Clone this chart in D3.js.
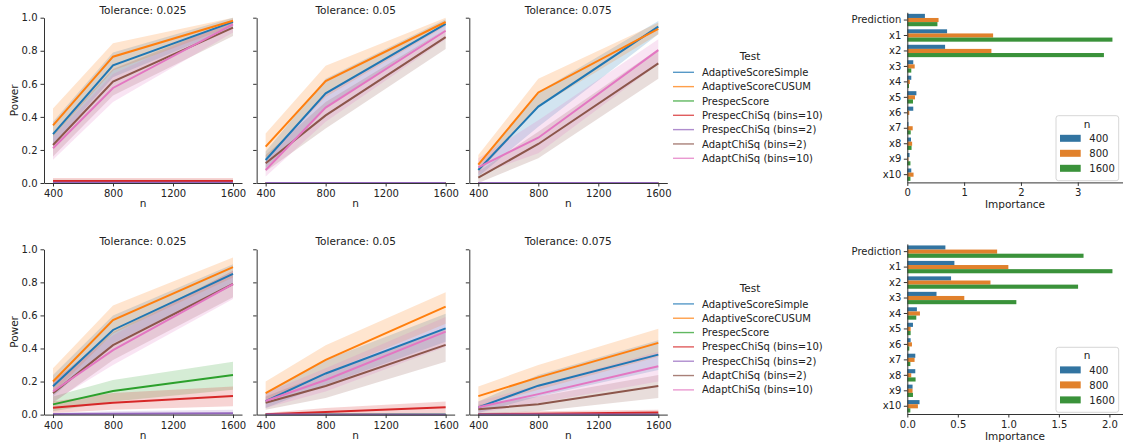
<!DOCTYPE html>
<html>
<head>
<meta charset="utf-8">
<script src="https://cdn.jsdelivr.net/npm/d3@7"></script>
<style>
  body { margin: 0; background: #fff; }
  text { font-family: "DejaVu Sans", sans-serif; fill: #222; }
</style>
</head>
<body>
<svg id="chart" width="1123" height="446"></svg>
<script>
// ---- data ----
const nValues = [400, 800, 1600];
const tolerances = ["0.025", "0.05", "0.075"];
const tests = ["AdaptiveScoreSimple", "AdaptiveScoreCUSUM", "PrespecScore",
  "PrespecChiSq (bins=10)", "PrespecChiSq (bins=2)", "AdaptChiSq (bins=2)", "AdaptChiSq (bins=10)"];
const testColors = ["#1f77b4", "#ff7f0e", "#2ca02c", "#d62728", "#9467bd", "#8c564b", "#e377c2"];
const xTicks = [400, 800, 1200, 1600];
const yTicks = [0, 0.2, 0.4, 0.6, 0.8, 1.0];

// [tolerance][test][n]
const powerTop = [
  [[0.296, 0.712, 0.975], [0.349, 0.764, 0.982], [0.004, 0.004, 0.004], [0.012, 0.012, 0.012], [0.002, 0.002, 0.002], [0.230, 0.613, 0.940], [0.210, 0.575, 0.960]],
  [[0.139, 0.542, 0.962], [0.220, 0.617, 0.974], [0, 0, 0], [0, 0, 0], [0, 0, 0], [0.119, 0.409, 0.883], [0.079, 0.456, 0.921]],
  [[0.079, 0.462, 0.946], [0.111, 0.548, 0.933], [0, 0, 0], [0, 0, 0], [0, 0, 0], [0.032, 0.236, 0.724], [0.095, 0.274, 0.804]]
];
const lowerTop = [
  [[0.23, 0.64, 0.94], [0.28, 0.68, 0.95], [0, 0, 0], [0, 0, 0], [0, 0, 0], [0.16, 0.53, 0.89], [0.14, 0.49, 0.91]],
  [[0.09, 0.46, 0.93], [0.15, 0.52, 0.95], [0, 0, 0], [0, 0, 0], [0, 0, 0], [0.07, 0.33, 0.81], [0.04, 0.37, 0.87]],
  [[0.04, 0.34, 0.90], [0.06, 0.46, 0.90], [0, 0, 0], [0, 0, 0], [0, 0, 0], [0.00, 0.15, 0.63], [0.05, 0.18, 0.72]]
];
const upperTop = [
  [[0.37, 0.79, 1.00], [0.45, 0.845, 1.00], [0.02, 0.02, 0.02], [0.03, 0.03, 0.03], [0.01, 0.01, 0.01], [0.30, 0.69, 0.98], [0.28, 0.66, 0.99]],
  [[0.19, 0.63, 0.99], [0.30, 0.71, 1.00], [0, 0, 0], [0, 0, 0], [0.003, 0.003, 0.003], [0.17, 0.49, 0.93], [0.13, 0.54, 0.96]],
  [[0.12, 0.55, 0.98], [0.17, 0.63, 0.97], [0, 0, 0], [0, 0, 0], [0.003, 0.003, 0.003], [0.07, 0.31, 0.81], [0.15, 0.38, 0.87]]
];

const powerBottom = [
  [[0.171, 0.512, 0.851], [0.200, 0.572, 0.892], [0.062, 0.143, 0.239], [0.042, 0.072, 0.112], [0.003, 0.005, 0.008], [0.130, 0.420, 0.790], [0.140, 0.390, 0.790]],
  [[0.082, 0.249, 0.522], [0.130, 0.331, 0.653], [0, 0, 0], [0.002, 0.016, 0.044], [0, 0, 0], [0.072, 0.173, 0.422], [0.082, 0.209, 0.502]],
  [[0.044, 0.175, 0.363], [0.112, 0.225, 0.434], [0, 0, 0], [0.002, 0.005, 0.012], [0, 0, 0], [0.032, 0.062, 0.173], [0.044, 0.124, 0.293]]
];
const lowerBottom = [
  [[0.11, 0.43, 0.79], [0.13, 0.49, 0.83], [0.02, 0.08, 0.15], [0.01, 0.03, 0.05], [0, 0, 0], [0.07, 0.33, 0.71], [0.08, 0.30, 0.70]],
  [[0.04, 0.18, 0.44], [0.07, 0.25, 0.55], [0, 0, 0], [0, 0, 0.01], [0, 0, 0], [0.03, 0.10, 0.32], [0.04, 0.14, 0.41]],
  [[0.01, 0.11, 0.27], [0.05, 0.15, 0.35], [0, 0, 0], [0, 0, 0], [0, 0, 0], [0.00, 0.02, 0.10], [0.01, 0.07, 0.20]]
];
const upperBottom = [
  [[0.24, 0.60, 0.91], [0.28, 0.66, 0.95], [0.11, 0.21, 0.32], [0.08, 0.13, 0.17], [0.01, 0.02, 0.03], [0.20, 0.50, 0.87], [0.20, 0.48, 0.87]],
  [[0.13, 0.33, 0.61], [0.20, 0.42, 0.74], [0, 0, 0], [0.01, 0.04, 0.08], [0.003, 0.003, 0.003], [0.11, 0.25, 0.52], [0.13, 0.28, 0.59]],
  [[0.08, 0.24, 0.45], [0.17, 0.30, 0.52], [0, 0, 0], [0.01, 0.02, 0.03], [0.003, 0.003, 0.003], [0.06, 0.11, 0.24], [0.08, 0.18, 0.38]]
];

const features = ["Prediction", "x1", "x2", "x3", "x4", "x5", "x6", "x7", "x8", "x9", "x10"];
const barColors = ["#3274a1", "#e1812c", "#3a923a"];
// [n][feature]
const importanceTop = [
  [0.31, 0.70, 0.665, 0.105, 0.07, 0.16, 0.105, 0.02, 0.065, 0.04, 0.07],
  [0.55, 1.51, 1.48, 0.13, 0.045, 0.135, 0.035, 0.095, 0.085, 0.02, 0.11],
  [0.53, 3.61, 3.46, 0.07, 0.03, 0.10, 0.005, 0.06, 0.075, 0.055, 0.055]
];
const importanceBottom = [
  [0.377, 0.466, 0.433, 0.289, 0.095, 0.056, 0.033, 0.079, 0.079, 0.052, 0.121],
  [0.889, 1.00, 0.823, 0.564, 0.125, 0.033, 0.046, 0.072, 0.039, 0.052, 0.105],
  [1.744, 2.03, 1.69, 1.079, 0.089, 0.033, 0.02, 0.03, 0.082, 0.056, 0.03]
];
const importanceTicksTop = [0, 1, 2, 3];
const importanceTicksBottom = [0, 0.5, 1.0, 1.5, 2.0];

// ---- layout ----
const svg = d3.select("#chart");
const rowOffset = 231.6;
const panelLeft = 44, panelStep = 212.65, panelWidth = 198;
const panelTop = 17.7, panelBottom = 183;
const spineColor = "#333";

function styleAxis(g) {
  g.selectAll(".domain").attr("stroke", spineColor).attr("stroke-width", 1);
  g.selectAll(".tick line").attr("stroke", spineColor).attr("stroke-width", 1);
  g.selectAll(".tick text").style("font-size", "10px").style("font-family", "DejaVu Sans, sans-serif").attr("fill", "#222");
}

function drawPowerRow(mean, lower, upper, off) {
  tolerances.forEach((tol, ti) => {
    const x0 = panelLeft + ti * panelStep;
    const x = d3.scaleLinear().domain([340, 1660]).range([x0, x0 + panelWidth]);
    const y = d3.scaleLinear().domain([0, 1]).range([panelBottom + off, panelTop + off]);
    const g = svg.append("g");

    const area = d3.area()
      .x((d, i) => x(nValues[i]))
      .y0(d => y(d[0]))
      .y1(d => y(d[1]));
    const line = d3.line()
      .x((d, i) => x(nValues[i]))
      .y(d => y(d));

    // bands first, then lines on top
    tests.forEach((t, k) => {
      const band = nValues.map((n, i) => [lower[ti][k][i], upper[ti][k][i]]);
      g.append("path").attr("d", area(band))
        .attr("fill", testColors[k]).attr("fill-opacity", 0.2);
    });
    tests.forEach((t, k) => {
      g.append("path").attr("d", line(mean[ti][k]))
        .attr("fill", "none").attr("stroke", testColors[k]).attr("stroke-width", 2);
    });

    const xa = g.append("g").attr("transform", `translate(0,${panelBottom + off})`)
      .call(d3.axisBottom(x).tickValues(xTicks).tickFormat(d3.format("d"))
        .tickSize(3.5).tickSizeOuter(0).tickPadding(3.5));
    styleAxis(xa);
    const ya = g.append("g").attr("transform", `translate(${x0},0)`)
      .call(d3.axisLeft(y).tickValues(yTicks).tickSize(3.5).tickSizeOuter(0).tickPadding(3)
        .tickFormat(ti === 0 ? d3.format(".1f") : ""));
    styleAxis(ya);

    g.append("text").attr("x", x0 + panelWidth / 2).attr("y", 13.5 + off)
      .attr("text-anchor", "middle").style("font-size", "10.5px").text("Tolerance: " + tol);
    g.append("text").attr("x", x0 + panelWidth / 2).attr("y", 207 + off)
      .attr("text-anchor", "middle").style("font-size", "10.5px").text("n");
  });

  svg.append("text")
    .attr("transform", `translate(18,${(panelTop + panelBottom) / 2 + off}) rotate(-90)`)
    .attr("text-anchor", "middle").style("font-size", "10.5px").text("Power");

  // legend
  const lg = svg.append("g");
  lg.append("text").attr("x", 750).attr("y", 60 + off).attr("text-anchor", "middle")
    .style("font-size", "10.5px").text("Test");
  tests.forEach((t, k) => {
    const cy = 72.3 + k * 14.33 + off;
    lg.append("line").attr("x1", 673).attr("x2", 694).attr("y1", cy).attr("y2", cy)
      .attr("stroke", testColors[k]).attr("stroke-width", 1.4).attr("stroke-opacity", 0.75);
    lg.append("text").attr("x", 702).attr("y", cy + 3.6).style("font-size", "10px").text(t);
  });
}

function drawBars(importance, ticks, fmt, off) {
  const g = svg.append("g");
  const y = d3.scaleBand().domain(features).range([12.3 + off, 182.4 + off])
    .paddingInner(0.2).paddingOuter(0.1);
  const hue = d3.scaleBand().domain(nValues).range([0, y.bandwidth()]);
  const xmax = d3.max(importance.flat()) * 1.05;
  const x = d3.scaleLinear().domain([0, xmax]).range([907.3, 1122.7]);

  nValues.forEach((n, j) => {
    g.selectAll(null).data(importance[j]).join("rect")
      .attr("x", x(0))
      .attr("y", (d, i) => y(features[i]) + hue(n))
      .attr("width", d => x(d) - x(0))
      .attr("height", hue.bandwidth())
      .attr("fill", barColors[j]);
  });

  const xa = g.append("g").attr("transform", `translate(0,${182.4 + off})`)
    .call(d3.axisBottom(x).tickValues(ticks).tickFormat(d3.format(fmt)).tickSize(3.5).tickSizeOuter(0).tickPadding(3.5));
  styleAxis(xa);
  const ya = g.append("g").attr("transform", `translate(907.3,0)`)
    .call(d3.axisLeft(y).tickSize(3.5).tickSizeOuter(0).tickPadding(2.5));
  styleAxis(ya);

  g.append("text").attr("x", (907.3 + 1122.7) / 2).attr("y", 208 + off)
    .attr("text-anchor", "middle").style("font-size", "10.5px").text("Importance");

  // legend
  const lg = g.append("g");
  lg.append("rect").attr("x", 1056).attr("y", 115.7 + off).attr("width", 62.7).attr("height", 65)
    .attr("rx", 2.5).attr("fill", "#fff").attr("fill-opacity", 0.8)
    .attr("stroke", "#ccc").attr("stroke-width", 0.8);
  lg.append("text").attr("x", 1087).attr("y", 127.5 + off).attr("text-anchor", "middle")
    .style("font-size", "10.5px").text("n");
  nValues.forEach((n, j) => {
    const cy = 138.3 + j * 15 + off;
    lg.append("rect").attr("x", 1060).attr("y", cy - 3.5).attr("width", 20.7).attr("height", 7)
      .attr("fill", barColors[j]);
    lg.append("text").attr("x", 1089.3).attr("y", cy + 3.6).style("font-size", "10px").text(n);
  });
}

drawPowerRow(powerTop, lowerTop, upperTop, 0);
drawPowerRow(powerBottom, lowerBottom, upperBottom, rowOffset);
drawBars(importanceTop, importanceTicksTop, "d", 0);
drawBars(importanceBottom, importanceTicksBottom, ".1f", rowOffset);
</script>
</body>
</html>
